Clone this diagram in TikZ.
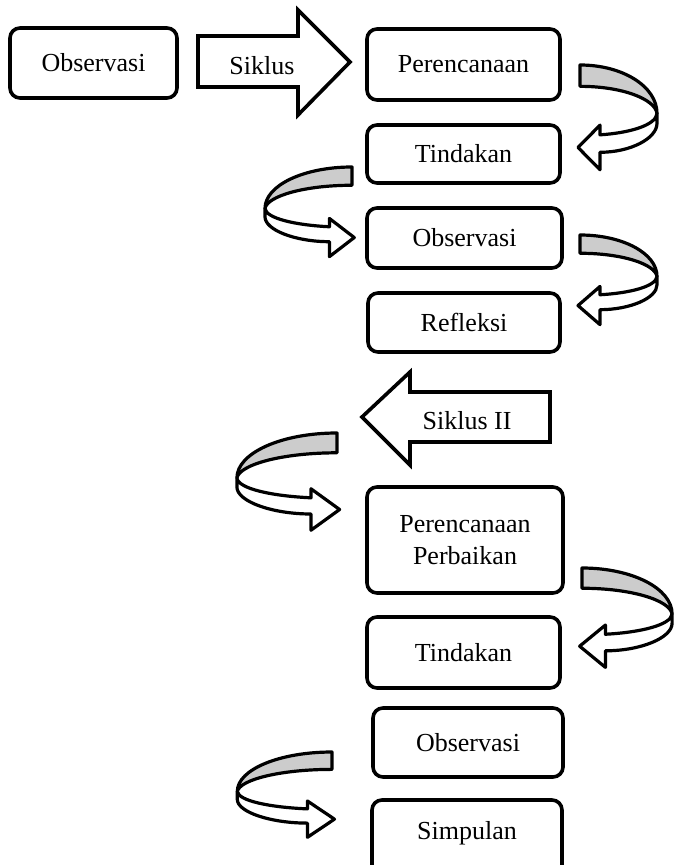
\documentclass[tikz,border=0pt]{standalone}
\usepackage{fontspec}
\setmainfont{Liberation Serif}
\begin{document}
\begin{tikzpicture}[x=0.5pt, y=-0.5pt,
    every node/.style={font=\fontsize{13}{16}\selectfont},
    kotak/.style={draw, line width=1.8pt, rounded corners=5pt, align=center,
        inner sep=0pt, minimum width=96.5pt, minimum height=35pt},
    teks/.style={inner sep=0pt},
    panah/.style={draw, line width=1.8pt, fill=white},
    pita/.style={draw, line width=1.6pt, line join=round},
    pics/putar/.style={code={
        \draw[pita, fill=gray!40] (0,0) .. controls (42.5,0) and (77,22) .. (77,50)
            .. controls (75,35) and (42,22) .. (0,22) -- cycle;
        \draw[pita, fill=white] (77,50) -- (77,60) .. controls (77,76) and (50,90) .. (20,90)
            -- (20,108) -- (-2,85) -- (20,62) -- (20,72)
            .. controls (50,70) and (76,62) .. (77,50) -- cycle;
    }}]
    \useasboundingbox (0,0) rectangle (673,865);

    % Kotak tahapan
    \node[kotak, minimum width=83.5pt] (obs1) at (93.5,63) {Observasi};
    \node[kotak, minimum height=35.5pt] (rencana) at (463.5,64.5) {Perencanaan};
    \node[kotak, minimum height=29pt] (tindak1) at (463.5,154) {Tindakan};
    \node[kotak, minimum width=97.5pt, minimum height=30pt] (obs2) at (464.5,238) {Observasi};
    \node[kotak, minimum width=96pt, minimum height=29.5pt] (refleksi) at (464,322.5) {Refleksi};
    \node[kotak, minimum width=98pt, minimum height=53pt] (rencanab) at (465,540) {Perencanaan\\Perbaikan};
    \node[kotak, minimum height=35.5pt] (tindak2) at (463.5,652.5) {Tindakan};
    \node[kotak, minimum width=95pt, minimum height=34.5pt] (obs3) at (468,742.5) {Observasi};
    \node[kotak, minimum width=95pt, minimum height=40pt] (simpulan) at (467,840) {};
    \node[teks] (simpulanteks) at (467,833) {Simpulan};

    % Panah siklus
    \draw[panah] (198,36) -- (298,36) -- (298,10) -- (350,62) -- (298,115) -- (298,87) -- (198,87) -- cycle;
    \node[teks] (siklus) at (262,66) {Siklus};
    \draw[panah] (362,417) -- (410,372) -- (410,392) -- (550,392) -- (550,442) -- (410,442) -- (410,465) -- cycle;
    \node[teks] (siklusdua) at (467,421) {Siklus II};

    % Panah melengkung
    \foreach \px/\py/\sx/\sy in {580/65/1/0.97, 580/235/1/0.83, 582/568/1.17/0.92,
                                 352/167/-1.13/0.83, 337/433/-1.3/0.9, 332/752/-1.23/0.79} {
        \pic[xscale=\sx, yscale=\sy] at (\px,\py) {putar};
    }
\end{tikzpicture}
\end{document}
